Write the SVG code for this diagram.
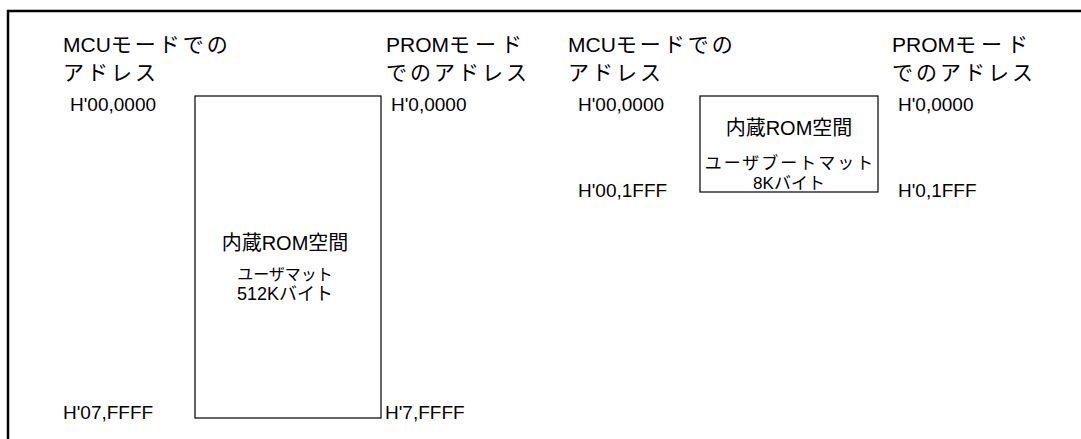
<svg xmlns="http://www.w3.org/2000/svg" width="1081" height="439" viewBox="0 0 1081 439">
<style>
text{font-family:"Liberation Sans","Noto Sans CJK JP",sans-serif;fill:#000}
.hd{font-size:21px}
.kn{letter-spacing:3px}
.pk{letter-spacing:5px}
.ad{font-size:19px}
.t1{font-size:20px;text-anchor:middle}
.t2{font-size:16px;text-anchor:middle}
.box{fill:#fff;stroke:#000;stroke-width:1.2}
</style>
<rect x="8" y="11" width="1100" height="460" fill="none" stroke="#000" stroke-width="2.5"/>
<g id="labels-left">
<text class="hd" x="63" y="52">MCU<tspan class="kn">モードでの</tspan></text>
<text class="hd kn" x="63" y="80">アドレス</text>
<text class="hd" x="386" y="52">PROM<tspan class="pk">モード</tspan></text>
<text class="hd kn" x="386" y="80">でのアドレス</text>
<text class="ad" x="70" y="111">H'00,0000</text>
<text class="ad" x="63" y="419">H'07,FFFF</text>
<text class="ad" x="391" y="111">H'0,0000</text>
<text class="ad" x="385" y="419">H'7,FFFF</text>
</g>
<g id="usermat">
<rect class="box" x="195" y="96" width="186" height="322"/>
<text class="t1" x="285" y="250">内蔵ROM空間</text>
<text class="t2" x="285" y="280">ユーザマット</text>
<text class="t2" x="285" y="300" style="font-size:18px">512Kバイト</text>
</g>
<g id="labels-right">
<text class="hd" x="568" y="52">MCU<tspan class="kn">モードでの</tspan></text>
<text class="hd kn" x="568" y="80">アドレス</text>
<text class="hd" x="892" y="52">PROM<tspan class="pk">モード</tspan></text>
<text class="hd kn" x="892" y="80">でのアドレス</text>
<text class="ad" x="578" y="111">H'00,0000</text>
<text class="ad" x="578" y="197">H'00,1FFF</text>
<text class="ad" x="898" y="111">H'0,0000</text>
<text class="ad" x="898" y="197">H'0,1FFF</text>
</g>
<g id="userbootmat">
<rect class="box" x="700" y="96" width="178" height="96"/>
<text class="t1" x="789" y="135">内蔵ROM空間</text>
<text class="t2" x="790" y="169" style="font-size:17px;letter-spacing:2px">ユーザブートマット</text>
<text class="t2" x="789" y="189" style="font-size:17px">8Kバイト</text>
</g>
<g id="connectors"></g>
</svg>
